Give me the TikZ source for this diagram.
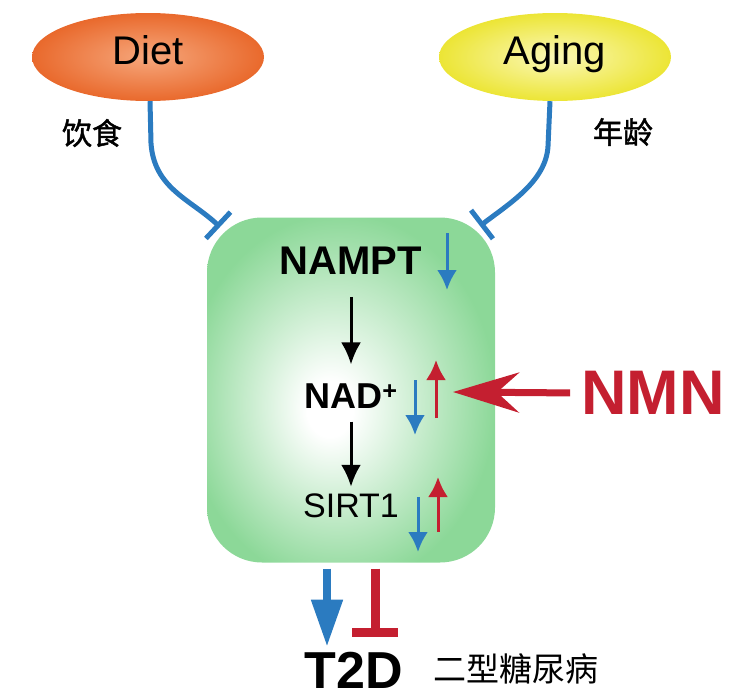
\documentclass[tikz,border=0pt]{standalone}
\usepackage{fontspec}
\setmainfont{Liberation Sans}
\newfontfamily\cjk{Noto Sans CJK SC}
\newfontfamily\cjkbold{Noto Sans CJK SC}[FakeBold=1.5]
\usetikzlibrary{arrows.meta, shapes.geometric}

\definecolor{inhibblue}{HTML}{2B7BC0}
\definecolor{nmnred}{HTML}{C41F30}
\definecolor{boxgreen}{HTML}{8CD898}
\definecolor{dietorange}{HTML}{E9692C}
\definecolor{dietlight}{HTML}{F6A77C}
\definecolor{agingyellow}{HTML}{ECE535}
\definecolor{aginglight}{HTML}{FBF8B8}

\pgfdeclareradialshading{boxglow}{\pgfpoint{-4bp}{-3bp}}{color(0bp)=(white); color(4bp)=(white); color(27bp)=(boxgreen); color(50bp)=(boxgreen)}

\tikzset{
    oval/.style={ellipse, minimum width=232pt, minimum height=88pt, inner sep=0pt,
        font=\fontsize{40}{48}\selectfont, text height=29pt, text depth=14pt},
    block/.style={draw=inhibblue, line width=5pt, -{Bar[width=36pt]}},
    flow/.style={line width=3pt, -{Latex[length=22pt, width=20pt]}},
    fall/.style={draw=inhibblue, line width=3pt, -{Latex[length=20pt, width=20pt]}},
    rise/.style={draw=nmnred, line width=3pt, -{Latex[length=20pt, width=20pt]}},
}

\begin{document}
\begin{tikzpicture}[x=1pt, y=-1pt, inner sep=2pt]
    \useasboundingbox (0,0) rectangle (751,699);

    % the cell
    \node[shade, shading=boxglow, rounded corners=55pt, minimum width=288pt,
        minimum height=345pt] (cell) at (351,390) {};

    % inputs
    \node[oval, inner color=dietlight, outer color=dietorange] (diet) at (148,57) {Diet};
    \node[font=\cjkbold\fontsize{30}{36}\selectfont] (dietcn) at (92,133) {饮食};
    \node[oval, inner color=aginglight, outer color=agingyellow] (aging) at (555,57) {Aging};
    \node[font=\cjkbold\fontsize{30}{36}\selectfont] (agingcn) at (623,132) {年龄};

    \coordinate (dietend) at (220,227);
    \coordinate (agingend) at (480,226);
    \draw[block] ([xshift=2pt]diet.south) -- ++(1,42) .. controls +(3,45) and (190,199) .. (dietend);
    \draw[block] ([xshift=-5pt]aging.south) -- ++(-2,45) .. controls +(-2,35) and (510,203) .. (agingend);

    % pathway
    \node[font=\bfseries\fontsize{40}{48}\selectfont] (nampt) at (351,261) {NAMPT};
    \node[font=\bfseries\fontsize{36}{43}\selectfont] (nad) at (351,396) {NAD\textsuperscript{+}};
    \node[font=\fontsize{34}{41}\selectfont] (sirt) at (351,506) {SIRT1};

    \draw[flow, shorten <=20pt, shorten >=17pt] (nampt) -- (nad);
    \draw[flow, shorten <=11pt, shorten >=5pt] (nad) -- (sirt);

    \draw[fall] (447,233) -- (447,290);
    \draw[fall] (415,380) -- (415,435);
    \draw[rise] (436,418) -- (436,360);
    \draw[fall] (418,497) -- (418,552);
    \draw[rise] (438,532) -- (438,477);

    % NMN
    \node[text=nmnred, font=\bfseries\fontsize{63}{75}\selectfont] (nmn) at (653,393) {NMN};
    \coordinate (nmnend) at (453,392);
    \draw[draw=nmnred, line width=7pt, -{Stealth[length=66pt, width=40pt, inset=22pt]},
        shorten <=9pt] (nmn.west) -- (nmnend);

    % outcome
    \node[font=\bfseries\fontsize{52}{62}\selectfont] (t2d) at (354,670) {T2D};
    \node[font=\cjk\fontsize{33}{40}\selectfont] (t2dcn) at (516,669) {二型糖尿病};

    \draw[draw=inhibblue, line width=8pt, -{Triangle[length=47pt, width=30pt]},
        shorten <=6pt, shorten >=3pt] ([xshift=-24pt]cell.south) -- ([xshift=-27pt]t2d.north);
    \draw[draw=nmnred, line width=9pt, -{Bar[width=46pt]},
        shorten <=6pt, shorten >=13pt] ([xshift=24pt]cell.south) -- ([xshift=21pt]t2d.north);
\end{tikzpicture}
\end{document}
